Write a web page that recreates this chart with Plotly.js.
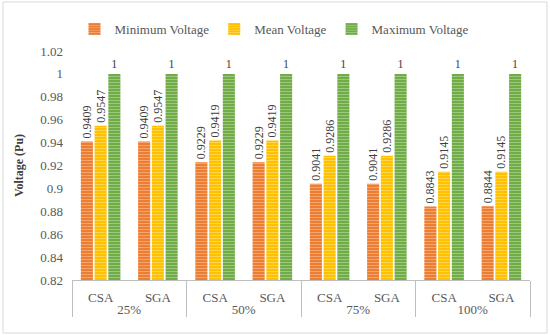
<!DOCTYPE html>
<html><head><meta charset="utf-8">
<script src="https://cdn.plot.ly/plotly-3.0.1.min.js"></script>
<style>body{margin:0;padding:0;background:#fff}#chart{width:550px;height:335px}</style>
</head><body><div id="chart"></div>
<script>
const loads = ['25%','25%','50%','50%','75%','75%','100%','100%'];
const methods = ['CSA','SGA','CSA','SGA','CSA','SGA','CSA','SGA'];
const minV = [0.9409,0.9409,0.9229,0.9229,0.9041,0.9041,0.8843,0.8844];
const meanV = [0.9547,0.9547,0.9419,0.9419,0.9286,0.9286,0.9145,0.9145];
const maxV = [1,1,1,1,1,1,1,1];
const yTicks = [0.82,0.84,0.86,0.88,0.9,0.92,0.94,0.96,0.98,1,1.02];
const yTickText = ['0.82','0.84','0.86','0.88','0.9','0.92','0.94','0.96','0.98','1','1.02'];

const font = 'Liberation Serif, Times New Roman, serif';
function mk(name, vals, color, angle){
  return {type:'bar', name:name, x:[loads, methods], y:vals,
    text: vals.map(v=>String(v)), textposition:'outside', textangle:angle,
    constraintext:'none', cliponaxis:false,
    textfont:{family:font,size:12,color:'#404040'},
    marker:{color:color, line:{width:0},
      pattern:{shape:'-', fillmode:'overlay', bgcolor:color, fgcolor:'rgba(255,255,255,0.7)', size:3, solidity:0.3}}
  };
}
const data = [
  mk('Minimum Voltage', minV, '#ED7D31', -90),
  mk('Mean Voltage', meanV, '#FFC000', -90),
  mk('Maximum Voltage', maxV, '#70AD47', 0)
];
const H=229, W=458;
const layout = {
  width:550, height:335,
  margin:{l:72, r:20, t:51, b:55},
  paper_bgcolor:'#fff', plot_bgcolor:'#fff',
  font:{family:font, size:12, color:'#595959'},
  barmode:'group', bargap:0.28, bargroupgap:0.12,
  showlegend:true,
  legend:{orientation:'h', x:(274-72)/W, xanchor:'center', y:(280-14)/H, yanchor:'top',
    font:{family:font,size:13,color:'#595959'}, itemwidth:30, traceorder:'normal'},
  xaxis:{type:'multicategory', showline:true, linecolor:'#bfbfbf', linewidth:1,
    showdividers:true, dividercolor:'#bfbfbf', dividerwidth:1, ticklabelstandoff:5,
    tickfont:{family:font,size:13,color:'#595959'}, automargin:false, ticks:''},
  yaxis:{range:[0.82,1.02], tickvals:yTicks, ticktext:yTickText, showgrid:false, zeroline:false,
    showline:false, ticks:'', automargin:false, ticklabelstandoff:8,
    tickfont:{family:font,size:13,color:'#595959'},
    title:{text:'<b>Voltage (Pu)</b>', font:{family:font,size:12,color:'#404040'}, standoff:14}},
  shapes:[{type:'rect', xref:'paper', yref:'paper',
    x0:(3-72)/W, x1:(547-72)/W, y0:(280-333)/H, y1:(280-2)/H,
    line:{color:'#d9d9d9', width:1}, fillcolor:'rgba(0,0,0,0)'}]
};
Plotly.newPlot('chart', data, layout, {staticPlot:true});
</script></body></html>
